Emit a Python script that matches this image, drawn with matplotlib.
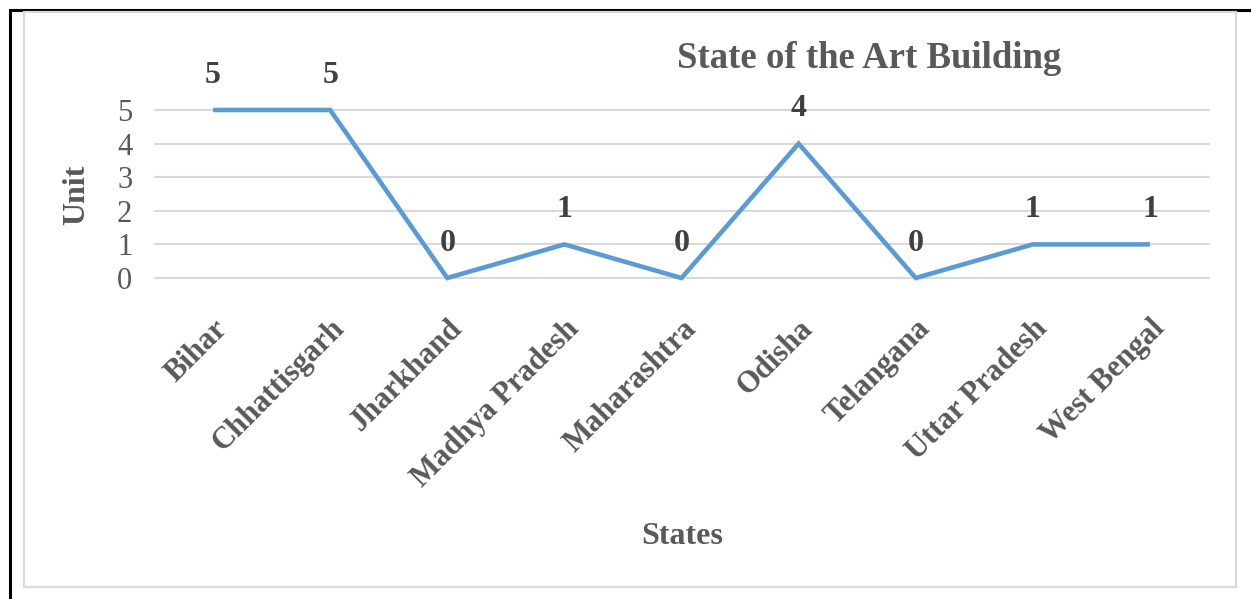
import matplotlib
matplotlib.use("Agg")
import matplotlib.pyplot as plt
from matplotlib.patches import Rectangle

states = ["Bihar", "Chhattisgarh", "Jharkhand", "Madhya Pradesh", "Maharashtra",
          "Odisha", "Telangana", "Uttar Pradesh", "West Bengal"]
units = [5, 5, 0, 1, 0, 4, 0, 1, 1]
y_ticks = [0, 1, 2, 3, 4, 5]

plt.rcParams["font.family"] = ["Liberation Serif", "DejaVu Serif"]

W, H = 1251, 599
fig = plt.figure(figsize=(W / 100, H / 100), dpi=100)

# outer frame (black, left and top edges) and chart-area frame (light gray)
fig.add_artist(Rectangle((10 / W, -0.1), 1.2, 1 - 10 / H + 0.1, transform=fig.transFigure,
                         fill=False, edgecolor="black", linewidth=2.2))
fig.add_artist(Rectangle((24 / W, 1 - 587 / H), (1236 - 24) / W, (587 - 12) / H,
                         transform=fig.transFigure, fill=False,
                         edgecolor="#D9D9D9", linewidth=1.6))

left, right = 154.5, 1208.5
top, bottom = 110, 278
ax = fig.add_axes([left / W, 1 - bottom / H, (right - left) / W, (bottom - top) / H])

x = list(range(len(states)))
ax.plot(x, units, color="#5B9BD5", linewidth=3.3, solid_joinstyle="miter",
        solid_capstyle="butt", zorder=3, clip_on=False)

for xi, v in zip(x, units):
    ax.annotate(str(v), (xi, v), xytext=(0, 25), textcoords="offset points",
                ha="center", va="center", fontsize=23, fontweight="bold",
                color="#404040")

ax.set_xlim(-0.5, len(states) - 0.5)
ax.set_ylim(0, 5)
ax.set_yticks(y_ticks)
ax.set_yticklabels([str(t) for t in y_ticks], fontsize=22, color="#595959")
ax.set_xticks(x)
ax.set_xticklabels(states, rotation=45, ha="right", rotation_mode="anchor",
                   fontsize=22, fontweight="bold", color="#595959")
ax.tick_params(axis="both", length=0)
ax.tick_params(axis="x", pad=26)
ax.tick_params(axis="y", pad=16)
ax.grid(axis="y", color="#D9D9D9", linewidth=1.5)
ax.set_axisbelow(True)
for s in ax.spines.values():
    s.set_visible(False)
for gl in ax.get_ygridlines():
    gl.set_clip_on(False)

fig.text(869 / W, 1 - 58 / H, "State of the Art Building", ha="center", va="center",
         fontsize=26.5, fontweight="bold", color="#595959")
fig.text(682 / W, 1 - 537 / H, "States", ha="center", va="center",
         fontsize=23, fontweight="bold", color="#595959")
fig.text(77 / W, 1 - 195 / H, "Unit", ha="center", va="center", rotation=90,
         fontsize=23, fontweight="bold", color="#595959")

fig.savefig("out.png", dpi=100, facecolor="white")
